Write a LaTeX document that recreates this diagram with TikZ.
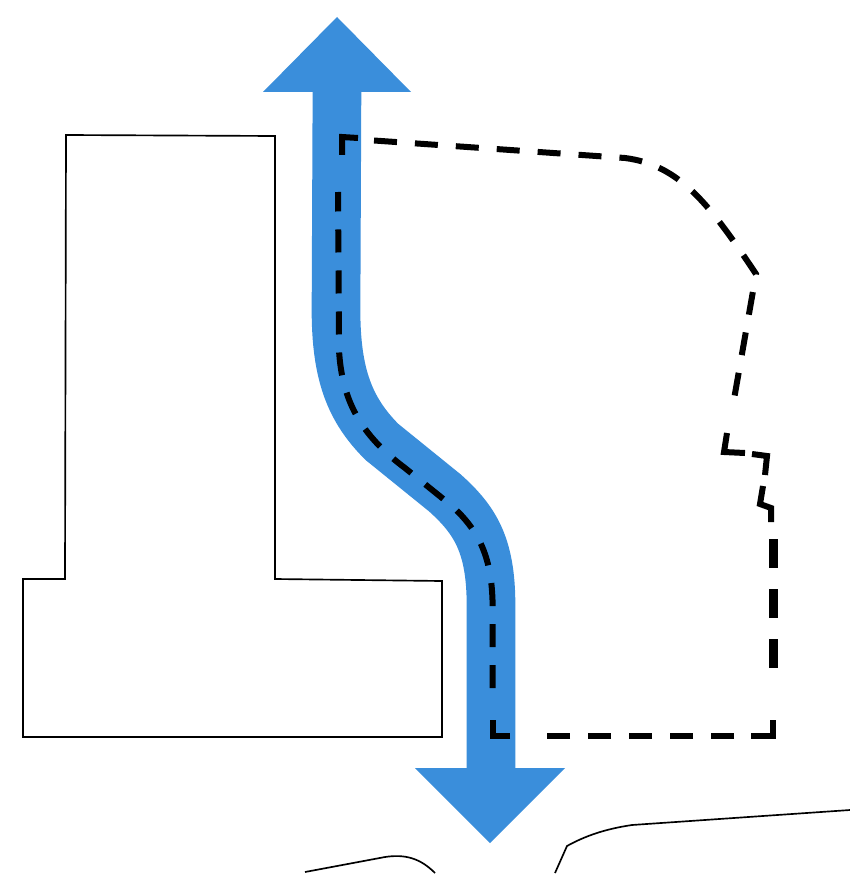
\documentclass[tikz,border=0pt]{standalone}
\definecolor{routeblue}{HTML}{3A8EDB}
\begin{document}
\begin{tikzpicture}[
  x=0.03cm, y=-0.03cm,
  outline/.style={draw=black, line width=0.05cm, line join=miter},
  kerb/.style={draw=black, line width=0.05cm},
  route/.style={draw=routeblue, line width=1.46cm},
  head/.style={fill=routeblue, draw=none},
  corner/.style={draw=black, line width=0.18cm, line join=miter},
  boundary/.style={draw=black, line width=0.18cm, dash pattern=on 0.69cm off 0.54cm},
  heavy/.style={draw=black, line width=0.27cm}
]
\useasboundingbox (0,0) rectangle (850,877);
% building
\draw[outline] (66,135) -- (275,136) -- (275,579) -- (442,581) -- (442,737) -- (23,737) -- (23,579) -- (65,579) -- cycle;
% roads
\draw[kerb] (305,872) -- (385,857) .. controls (405,854) and (420,858) .. (435,873);
\draw[kerb] (555,873) -- (567,846) .. controls (585,836) and (605,829) .. (632,825) -- (850,810);
% blue route
\draw[route] (337,85) -- (336,310) .. controls (336,375) and (350,410) .. (382,442)
  -- (445,493) .. controls (475,520) and (491,545) .. (491,605) -- (491,775);
\fill[head] (337,17) -- (411,92) -- (263,92) -- cycle;
\fill[head] (490,843) -- (415,768) -- (565,768) -- cycle;
% site boundary
\draw[corner] (342,155) -- (342,137) -- (358,138);
\draw[boundary] (374,140.5) -- (625,158) .. controls (680,165) and (710,205) .. (756,274) -- (733,405);
\draw[corner] (727,433) -- (724,452) -- (745,453);
\draw[corner] (752,454) -- (767,456) -- (765,475);
\draw[corner] (763,486) -- (760,504) -- (771,508) -- (771,522);
\draw[heavy] (773,539) -- (773,568);
\draw[heavy] (773,589) -- (773,618);
\draw[heavy] (773,639) -- (773,668);
\draw[corner] (773,720) -- (773,736) -- (751,736);
\draw[boundary] (734,736) -- (545,736);
\draw[corner] (510,736) -- (492.5,736) -- (492.5,720);
\draw[boundary] (492.5,688) -- (492.5,600) .. controls (491,555) and (478,530) .. (452,506)
  -- (405,468) .. controls (365,438) and (342,405) .. (339,350) -- (338,192);
\end{tikzpicture}
\end{document}
